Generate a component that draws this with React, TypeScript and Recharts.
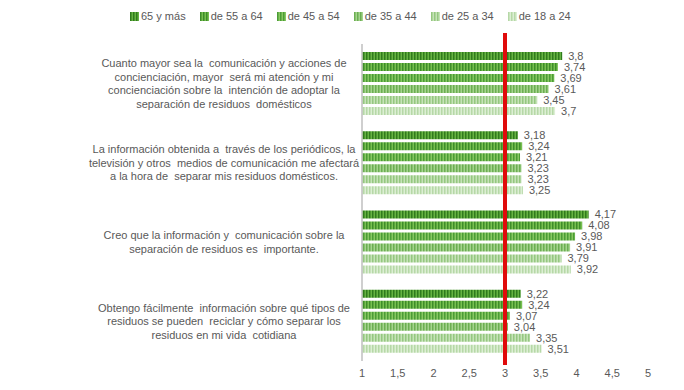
import React from "react";
import { BarChart, Bar, XAxis, YAxis, ReferenceLine, LabelList } from "recharts";

const categories = ["q1", "q2", "q3", "q4"];
const categoryLines: string[][] = [
  [
    "Cuanto mayor sea la  comunicación y acciones de",
    "concienciación, mayor  será mi atención y mi",
    "concienciación sobre la  intención de adoptar la",
    "separación de residuos  domésticos",
  ],
  [
    "La información obtenida a  través de los periódicos, la",
    "televisión y otros  medios de comunicación me afectará",
    "a la hora de  separar mis residuos domésticos.",
  ],
  [
    "Creo que la información y  comunicación sobre la",
    "separación de residuos es  importante.",
  ],
  [
    "Obtengo fácilmente  información sobre qué tipos de",
    "residuos se pueden  reciclar y cómo separar los",
    "residuos en mi vida  cotidiana",
  ],
];

const seriesNames = ["65 y más", "de 55 a 64", "de 45 a 54", "de 35 a 44", "de 25 a 34", "de 18 a 24"];
const s65 = [3.8, 3.18, 4.17, 3.22];
const s55 = [3.74, 3.24, 4.08, 3.24];
const s45 = [3.69, 3.21, 3.98, 3.07];
const s35 = [3.61, 3.23, 3.91, 3.04];
const s25 = [3.45, 3.23, 3.79, 3.35];
const s18 = [3.7, 3.25, 3.92, 3.51];
const seriesValues = [s65, s55, s45, s35, s25, s18];

const xTicks = [1, 1.5, 2, 2.5, 3, 3.5, 4, 4.5, 5];
const referenceValue = 3;

const patternColors = [
  { bg: "#66b342", stripe: "#2f7b1d" },
  { bg: "#78c050", stripe: "#3d8d2a" },
  { bg: "#88c862", stripe: "#4b9c36" },
  { bg: "#a5d48e", stripe: "#6cae52" },
  { bg: "#c6e3b8", stripe: "#95c780" },
  { bg: "#dcefd4", stripe: "#b6d8a7" },
];

const data = categories.map((c, i) => {
  const row: any = { key: c, idx: i };
  seriesValues.forEach((vals, j) => {
    row["s" + j] = vals[i];
  });
  return row;
});

const FONT = "'Liberation Sans', Arial, sans-serif";
const TEXT = "#595959";
const fmt = (v: any) => String(v).replace(".", ",");

const CategoryTick = (props: any) => {
  const { y, payload } = props;
  const idx = categories.indexOf(payload.value);
  const lines = categoryLines[idx] || [];
  const lh = 13.5;
  const start = -((lines.length - 1) / 2) * lh;
  return (
    <text
      x={224}
      y={y}
      textAnchor="middle"
      fill={TEXT}
      fontSize={11}
      fontFamily={FONT}
      style={{ whiteSpace: "pre" }}
    >
      {lines.map((l, k) => (
        <tspan key={k} x={224} dy={k === 0 ? start + 4 : lh}>
          {l}
        </tspan>
      ))}
    </text>
  );
};

const RedLine = (props: any) => {
  const { x1, y1, y2 } = props;
  return <line x1={x1} x2={x1} y1={y1 + 4} y2={y2 - 11} stroke="#e00b0b" strokeWidth={4} />;
};

export default function App() {
  return (
    <div style={{ position: "absolute", left: 0, top: 0, width: 684, height: 390, background: "#fff" }}>
      <svg width={0} height={0} style={{ position: "absolute" }}>
        <defs>
          {patternColors.map((p, i) => (
            <pattern key={i} id={"stripe" + i} patternUnits="userSpaceOnUse" width={3} height={10}>
              <rect x={0} y={0} width={3} height={10} fill={p.bg} />
              <rect x={0} y={0} width={1.5} height={10} fill={p.stripe} />
            </pattern>
          ))}
        </defs>
      </svg>
      <div
        style={{
          position: "absolute",
          left: 130,
          top: 10,
          display: "flex",
          alignItems: "center",
          fontFamily: FONT,
          fontSize: 11,
          color: TEXT,
          whiteSpace: "nowrap",
        }}
      >
        {seriesNames.map((n, i) => (
          <div key={n} style={{ display: "flex", alignItems: "center", marginRight: 14 }}>
            <svg width={9} height={9} style={{ marginRight: 2 }}>
              <rect x={0} y={0} width={9} height={9} fill={`url(#stripe${i})`} />
            </svg>
            <span>{n}</span>
          </div>
        ))}
      </div>
      <BarChart
        width={684}
        height={390}
        data={data}
        layout="vertical"
        margin={{ top: 44, right: 36, bottom: 4, left: 0 }}
        barSize={8}
        barGap={3}
      >
        <XAxis
          type="number"
          domain={[1, 5]}
          ticks={xTicks}
          tickFormatter={fmt}
          axisLine={false}
          tickLine={false}
          height={25}
          tick={{ fill: TEXT, fontSize: 11, fontFamily: FONT }}
        />
        <YAxis
          type="category"
          dataKey="key"
          width={362}
          tick={<CategoryTick />}
          tickLine={false}
          axisLine={{ stroke: "#bfbfbf", strokeWidth: 1.5 }}
          interval={0}
        />
        {seriesNames.map((n, i) => (
          <Bar key={n} dataKey={"s" + i} name={n} fill={`url(#stripe${i})`} isAnimationActive={false}>
            <LabelList
              dataKey={"s" + i}
              position="right"
              offset={6}
              formatter={fmt}
              fill={TEXT}
              fontSize={11}
              fontFamily={FONT}
            />
          </Bar>
        ))}
        <ReferenceLine x={referenceValue} stroke="#e00b0b" strokeWidth={4} shape={<RedLine />} ifOverflow="visible" />
      </BarChart>
    </div>
  );
}
